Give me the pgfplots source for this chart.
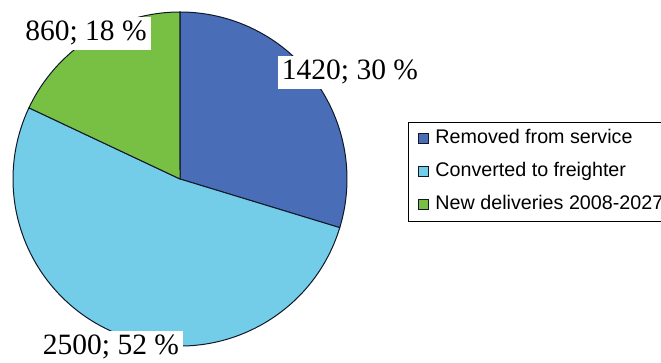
\documentclass[border=0pt]{standalone}
\usepackage{pgfplots}
\pgfplotsset{compat=1.18}
\usepackage{fontspec}
\setmainfont{Liberation Serif}
\newfontfamily\legendfont{Liberation Sans}
\definecolor{pieblue}{HTML}{4A6DB8}
\definecolor{pielight}{HTML}{74CDE8}
\definecolor{piegreen}{HTML}{78C043}
\definecolor{pieedge}{HTML}{101828}
\begin{document}
\begin{tikzpicture}
\path[use as bounding box] (0,0) rectangle (661pt,363pt);
\clip (0,0) rectangle (661pt,363pt);
% values
\def\vA{1420}\def\vB{2500}\def\vC{860}
\pgfmathsetmacro\tot{\vA+\vB+\vC}
\pgfmathsetmacro\aA{90-360*(\vA/\tot)}
\pgfmathsetmacro\aB{\aA-360*(\vB/\tot)}
\pgfmathsetmacro\aC{\aB-360*(\vC/\tot)}
\begin{axis}[hide axis, scale only axis, width=334pt, height=334pt,
  xmin=-1, xmax=1, ymin=-1, ymax=1,
  at={(180pt,184pt)}, anchor=center, clip=false,
  legend style={at={(1.1826,0.6707)}, anchor=north west,
    font=\legendfont\fontsize{19.7}{22}\selectfont,
    draw=black, line width=1pt, inner xsep=10pt, inner ysep=0pt, row sep=0pt,
    nodes={inner xsep=4pt, inner ysep=6.5pt, text height=15pt, text depth=5pt, anchor=west}},
  legend cell align=left,
  legend image code/.code={\draw[#1, line width=1pt] (0pt,-5pt) rectangle (10pt,5pt); \path (12pt,0pt);}]
\filldraw[fill=pieblue, draw=pieedge, line width=1pt] (axis cs:0,0) -- (axis cs:0,1)
  arc[start angle=90, end angle=\aA, radius=167pt] -- cycle;
\filldraw[fill=pielight, draw=pieedge, line width=1pt] (axis cs:0,0) -- (axis cs:{cos(\aA)},{sin(\aA)})
  arc[start angle=\aA, end angle=\aB, radius=167pt] -- cycle;
\filldraw[fill=piegreen, draw=pieedge, line width=1pt] (axis cs:0,0) -- (axis cs:{cos(\aB)},{sin(\aB)})
  arc[start angle=\aB, end angle=\aC, radius=167pt] -- cycle;
\addlegendimage{fill=pieblue, draw=pieedge}
\addlegendentry{Removed from service}
\addlegendimage{fill=pielight, draw=pieedge}
\addlegendentry{Converted to freighter}
\addlegendimage{fill=piegreen, draw=pieedge}
\addlegendentry{New deliveries 2008-2027}
\end{axis}
\begin{scope}[every node/.style={fill=white, inner sep=4pt, anchor=base, font=\fontsize{29.5}{35}\selectfont}]
\node at (86pt,322pt) {860; 18 \%};
\node at (350pt,283pt) {1420; 30 \%};
\node at (111pt,8pt) {2500; 52 \%};
\end{scope}
\end{tikzpicture}
\end{document}
